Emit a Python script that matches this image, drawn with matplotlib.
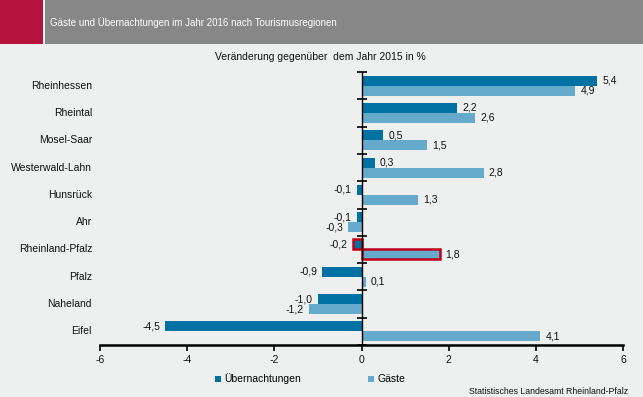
import matplotlib
matplotlib.use("Agg")
import matplotlib.pyplot as plt
import numpy as np
from matplotlib.patches import Rectangle
import matplotlib.transforms as mtransforms

plt.rcParams['font.family'] = ['Liberation Sans', 'DejaVu Sans']

regions = ["Rheinhessen", "Rheintal", "Mosel-Saar", "Westerwald-Lahn", "Hunsrück",
           "Ahr", "Rheinland-Pfalz", "Pfalz", "Naheland", "Eifel"]
uebernachtungen = [5.4, 2.2, 0.5, 0.3, -0.1, -0.1, -0.2, -0.9, -1.0, -4.5]
gaeste = [4.9, 2.6, 1.5, 2.8, 1.3, -0.3, 1.8, 0.1, -1.2, 4.1]
highlight = "Rheinland-Pfalz"
xticks = [-6, -4, -2, 0, 2, 4, 6]

title = "Gäste und Übernachtungen im Jahr 2016 nach Tourismusregionen"
subtitle = "Veränderung gegenüber  dem Jahr 2015 in %"
source = "Statistisches Landesamt Rheinland-Pfalz"

bg = "#EEEFEF"
c_u = "#0071A3"
c_g = "#66AACB"
c_red = "#C00018"

W, H = 643, 397
fig = plt.figure(figsize=(W / 100, H / 100), dpi=100, facecolor=bg)

# header
fig.patches.append(Rectangle((0, 1 - 44 / H), 43 / W, 44 / H, transform=fig.transFigure,
                             facecolor="#B5123E", edgecolor="none"))
fig.patches.append(Rectangle((45 / W, 1 - 44 / H), 1 - 45 / W, 44 / H, transform=fig.transFigure,
                             facecolor="#878787", edgecolor="none"))
fig.text(50 / W, 1 - 23 / H, title, color="white", fontsize=7.0, va="center", ha="left")
fig.text(320 / W, 1 - 57 / H, subtitle, color="#111111", fontsize=7.5, va="center", ha="center")

left, right, top, bottom = 100, 623, 72, 345
ax = fig.add_axes([left / W, 1 - bottom / H, (right - left) / W, (bottom - top) / H])
ax.set_facecolor(bg)

n = len(regions)
y = np.arange(n)
h = 0.365
off = 0.183
ax.barh(y - off, uebernachtungen, height=h, color=c_u, label="Übernachtungen")
ax.barh(y + off, gaeste, height=h, color=c_g, label="Gäste")

hi = regions.index(highlight)
ax.barh(hi - off, uebernachtungen[hi], height=h, color=c_u, edgecolor=c_red, linewidth=1.8)
ax.barh(hi + off, gaeste[hi], height=h, color=c_g, edgecolor=c_red, linewidth=1.8)

ax.set_xlim(-6, 6)
ax.set_ylim(n - 0.5, -0.5)

def fmt(v):
    return f"{v:.1f}".replace(".", ",")

for i in range(n):
    for v, yy in ((uebernachtungen[i], i - off), (gaeste[i], i + off)):
        pad = 0.12
        if v >= 0:
            ax.text(v + pad, yy, fmt(v), ha="left", va="center", fontsize=7.5, color="#111111")
        else:
            ax.text(v - pad, yy, fmt(v), ha="right", va="center", fontsize=7.5, color="#111111")

# category labels at left
trans = mtransforms.blended_transform_factory(ax.transAxes, ax.transData)
for i, r in enumerate(regions):
    ax.text(-8 / (right - left), i, r, transform=trans, ha="right", va="center",
            fontsize=7.5, color="#111111")

for s in ["top", "right"]:
    ax.spines[s].set_visible(False)
ax.spines["left"].set_position(("data", 0))
ax.spines["left"].set_linewidth(1.0)
ax.spines["left"].set_zorder(5)
ax.spines["bottom"].set_linewidth(1.8)
ax.set_yticks([])
ax.set_yticks(np.arange(n + 1) - 0.5, minor=True)
ax.tick_params(axis="y", which="minor", direction="inout", length=7, width=1.2, labelleft=False)
ax.set_xticks(xticks)
ax.set_xticklabels([str(t) for t in xticks])
ax.tick_params(axis="x", direction="out", length=4, width=1.2, labelsize=7.5, pad=3,
               labelcolor="#111111")

leg = fig.legend(loc="center left", bbox_to_anchor=(215 / W, 1 - 379 / H), ncol=2, frameon=False,
                 fontsize=7.5, handlelength=0.55, handleheight=0.55, handletextpad=0.3,
                 columnspacing=6.5, borderpad=0, borderaxespad=0)
fig.text(628 / W, 1 - 391 / H, source, ha="right", va="center", fontsize=6.3, color="#111111")

fig.savefig("out.png", dpi=100, facecolor=bg)
